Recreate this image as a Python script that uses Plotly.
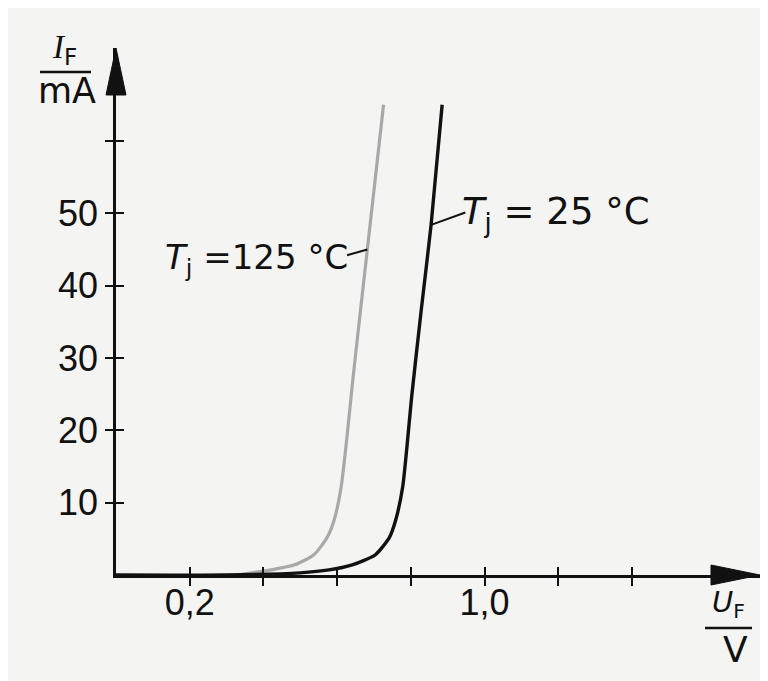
import plotly.graph_objects as go

# ---- data ----
u_25 = [0.0, 0.3, 0.5, 0.578, 0.641, 0.704, 0.742, 0.759, 0.778, 0.790, 0.802, 0.828, 0.855, 0.885]
i_25 = [0.0, 0.0, 0.3, 0.7, 1.4, 2.8, 5.2, 7.6, 12.2, 18.0, 24.5, 36.5, 48.4, 65.0]

u_125 = [0.34, 0.42, 0.485, 0.537, 0.573, 0.592, 0.611, 0.627, 0.641, 0.660, 0.682, 0.726]
i_125 = [0.1, 0.7, 1.4, 2.8, 5.2, 7.6, 12.2, 19.2, 26.2, 35.0, 45.0, 65.0]

x_ticks = [0.2, 0.4, 0.6, 0.8, 1.0, 1.2, 1.4]
x_ticktext = ["0,2", "", "", "", "1,0", "", ""]
y_ticks = [10, 20, 30, 40, 50, 60]
y_ticktext = ["10", "20", "30", "40", "50", ""]

OFF = 8                      # page body margin
W, H = 768 - OFF, 681 - OFF
ML, MR, MT, MB = 116 - OFF, 16 - OFF, 48 - OFF, 114 - OFF
PW, PH = W - ML - MR, H - MT - MB
X_MAX = 1.7475
Y_MAX = 72.84

def px(x):   # screen pixel -> paper
    return (x - OFF - ML) / PW

def py(y):
    return (H - MB - (y - OFF)) / PH

TICKFONT = "Liberation Sans, Arial, sans-serif"
FONT = "DejaVu Sans, sans-serif"
INK = "#111111"
BG = "#f4f4f2"

fig = go.Figure()
fig.add_trace(go.Scatter(x=u_125, y=i_125, mode="lines",
                         line=dict(color="#a8a8a8", width=3.2, shape="spline", smoothing=0.6),
                         cliponaxis=False, showlegend=False))
fig.add_trace(go.Scatter(x=u_25, y=i_25, mode="lines",
                         line=dict(color=INK, width=3.4, shape="spline", smoothing=0.6),
                         cliponaxis=False, showlegend=False))
fig.add_trace(go.Scatter(x=[0], y=[0], xaxis="x2", yaxis="y2", mode="markers",
                         marker=dict(opacity=0), showlegend=False, hoverinfo="skip"))

axis_common = dict(showgrid=False, zeroline=False, showline=True, linecolor=INK,
                   linewidth=2.6, tickcolor=INK, tickwidth=2, ticklen=8,
                   tickfont=dict(family=TICKFONT, size=36, color=INK))

fig.update_layout(
    width=W, height=H,
    margin=dict(l=ML, r=MR, t=MT, b=MB),
    paper_bgcolor=BG, plot_bgcolor=BG,
    showlegend=False,
    xaxis=dict(range=[0, X_MAX], tickmode="array", tickvals=x_ticks, ticktext=x_ticktext,
               ticks="outside", ticklabelstandoff=-14, **axis_common),
    yaxis=dict(range=[0, Y_MAX], tickmode="array", tickvals=y_ticks, ticktext=y_ticktext,
               ticks="outside", ticklabelstandoff=0, **axis_common),
    xaxis2=dict(range=[0, X_MAX], overlaying="x", anchor="y2", tickmode="array", tickvals=x_ticks,
                ticks="inside", showticklabels=False, showgrid=False, zeroline=False,
                showline=False, tickcolor=INK, tickwidth=2, ticklen=8),
    yaxis2=dict(range=[0, Y_MAX], overlaying="y", anchor="x2", tickmode="array", tickvals=y_ticks,
                ticks="inside", showticklabels=False, showgrid=False, zeroline=False,
                showline=False, tickcolor=INK, tickwidth=2, ticklen=8),
)

# arrow heads
fig.add_shape(type="path", xref="paper", yref="paper", xsizemode="pixel", ysizemode="pixel",
              xanchor=1, yanchor=0, path="M 0 0 L -49 10 L -49 -10 Z",
              fillcolor=INK, line=dict(color=INK, width=1))
fig.add_shape(type="path", xref="paper", yref="paper", xsizemode="pixel", ysizemode="pixel",
              xanchor=0, yanchor=1, path="M 0 0 L -10 -47 L 10 -47 Z",
              fillcolor=INK, line=dict(color=INK, width=1))

# leader lines for the curve labels
fig.add_shape(type="line", xref="x", yref="y", x0=0.855, y0=48.4, x1=0.948, y1=50.1,
              line=dict(color=INK, width=2))
fig.add_shape(type="line", xref="x", yref="y", x0=0.682, y0=45.0, x1=0.627, y1=44.2,
              line=dict(color=INK, width=2))

# fraction bars for axis titles
fig.add_shape(type="line", xref="paper", yref="paper", x0=px(40), x1=px(91), y0=py(72), y1=py(72),
              line=dict(color=INK, width=2.6))
fig.add_shape(type="line", xref="paper", yref="paper", x0=px(705), x1=px(752), y0=py(628), y1=py(628),
              line=dict(color=INK, width=2.6))

def ann(text, x, y, xanchor="center", size=36, family=FONT):
    fig.add_annotation(text=text, xref="paper", yref="paper", x=px(x), y=py(y),
                       xanchor=xanchor, yanchor="middle", showarrow=False,
                       font=dict(family=family, size=size, color=INK))

SERIF = "Liberation Serif, serif"
ann("<i>I</i><sub><span style='font-family:DejaVu Sans'>F</span></sub>", 64, 49, size=33, family=SERIF)
ann("mA", 67, 91, size=35)
ann("<i>U</i><sub>F</sub>", 728, 604, size=29)
ann("V", 735, 649, size=36)
ann("<i>T</i><sub>j</sub>\u00a0=\u00a025\u00a0°C", 460, 214, xanchor="left", size=37)
ann("<i>T</i><sub>j</sub>\u00a0=125\u00a0°C", 163, 260, xanchor="left", size=34)

fig.write_html("out.html")
